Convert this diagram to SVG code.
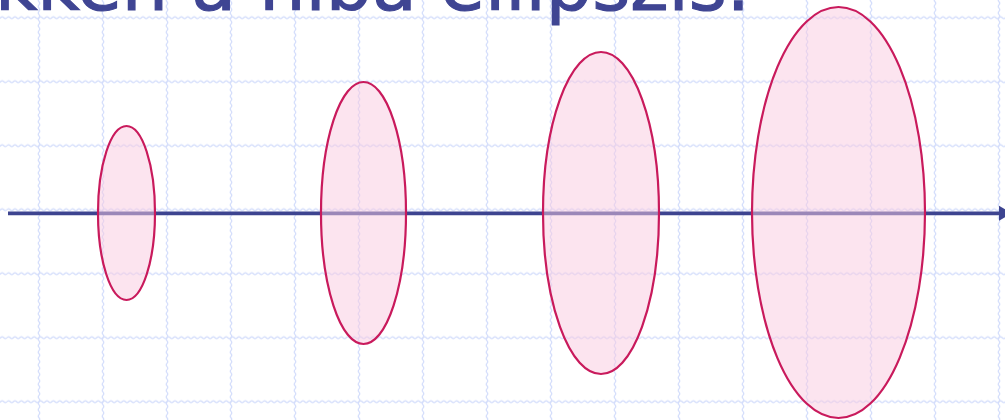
<svg xmlns="http://www.w3.org/2000/svg" width="1005" height="420" viewBox="0 0 1005 420">
  <style>
    .title { font-family: "DejaVu Sans", Verdana, sans-serif; font-size: 73px; fill: #3f4593; stroke: #3f4593; stroke-width: 1.2; }
    .ell { fill: rgba(249, 201, 223, 0.5); stroke: #c91a5c; stroke-width: 2.2; }
    .axis { stroke: #3d4490; stroke-width: 3.8; fill: none; }
    .wave { fill: none; stroke: #d2dcfb; stroke-width: 1.2; }
  </style>
  <defs>
    <pattern id="grid" patternUnits="userSpaceOnUse" x="7" y="-14.3" width="64" height="64">
      <path class="wave" d="M0 32 q1.6 -1.6 3.2 0 t3.2 0 t3.2 0 t3.2 0 t3.2 0 t3.2 0 t3.2 0 t3.2 0 t3.2 0 t3.2 0 t3.2 0 t3.2 0 t3.2 0 t3.2 0 t3.2 0 t3.2 0 t3.2 0 t3.2 0 t3.2 0 t3.2 0"/>
      <path class="wave" d="M32 0 q-1.6 1.6 0 3.2 t0 3.2 t0 3.2 t0 3.2 t0 3.2 t0 3.2 t0 3.2 t0 3.2 t0 3.2 t0 3.2 t0 3.2 t0 3.2 t0 3.2 t0 3.2 t0 3.2 t0 3.2 t0 3.2 t0 3.2 t0 3.2 t0 3.2"/>
    </pattern>
    <marker id="arrow" markerUnits="userSpaceOnUse" markerWidth="16" markerHeight="16" refX="2" refY="8" orient="auto">
      <path d="M2 0.5 L15 8 L2 15.5 Z" fill="#3d4490"/>
    </marker>
  </defs>
  <rect width="1005" height="420" fill="#ffffff"/>
  <rect width="1005" height="420" fill="url(#grid)"/>
  <g id="title">
    <text class="title" x="750" y="10" text-anchor="end">kken a hiba ellipszis.</text>
  </g>
  <g id="connectors">
    <path class="axis" d="M8 213.3 H999" marker-end="url(#arrow)"/>
  </g>
  <g id="ellipse1">
    <ellipse class="ell" cx="126.5" cy="213" rx="28.5" ry="87"/>
  </g>
  <g id="ellipse2">
    <ellipse class="ell" cx="363.5" cy="213" rx="42.5" ry="131"/>
  </g>
  <g id="ellipse3">
    <ellipse class="ell" cx="601" cy="213" rx="58" ry="161"/>
  </g>
  <g id="ellipse4">
    <ellipse class="ell" cx="838.5" cy="212.5" rx="86.5" ry="205.5"/>
  </g>
</svg>
